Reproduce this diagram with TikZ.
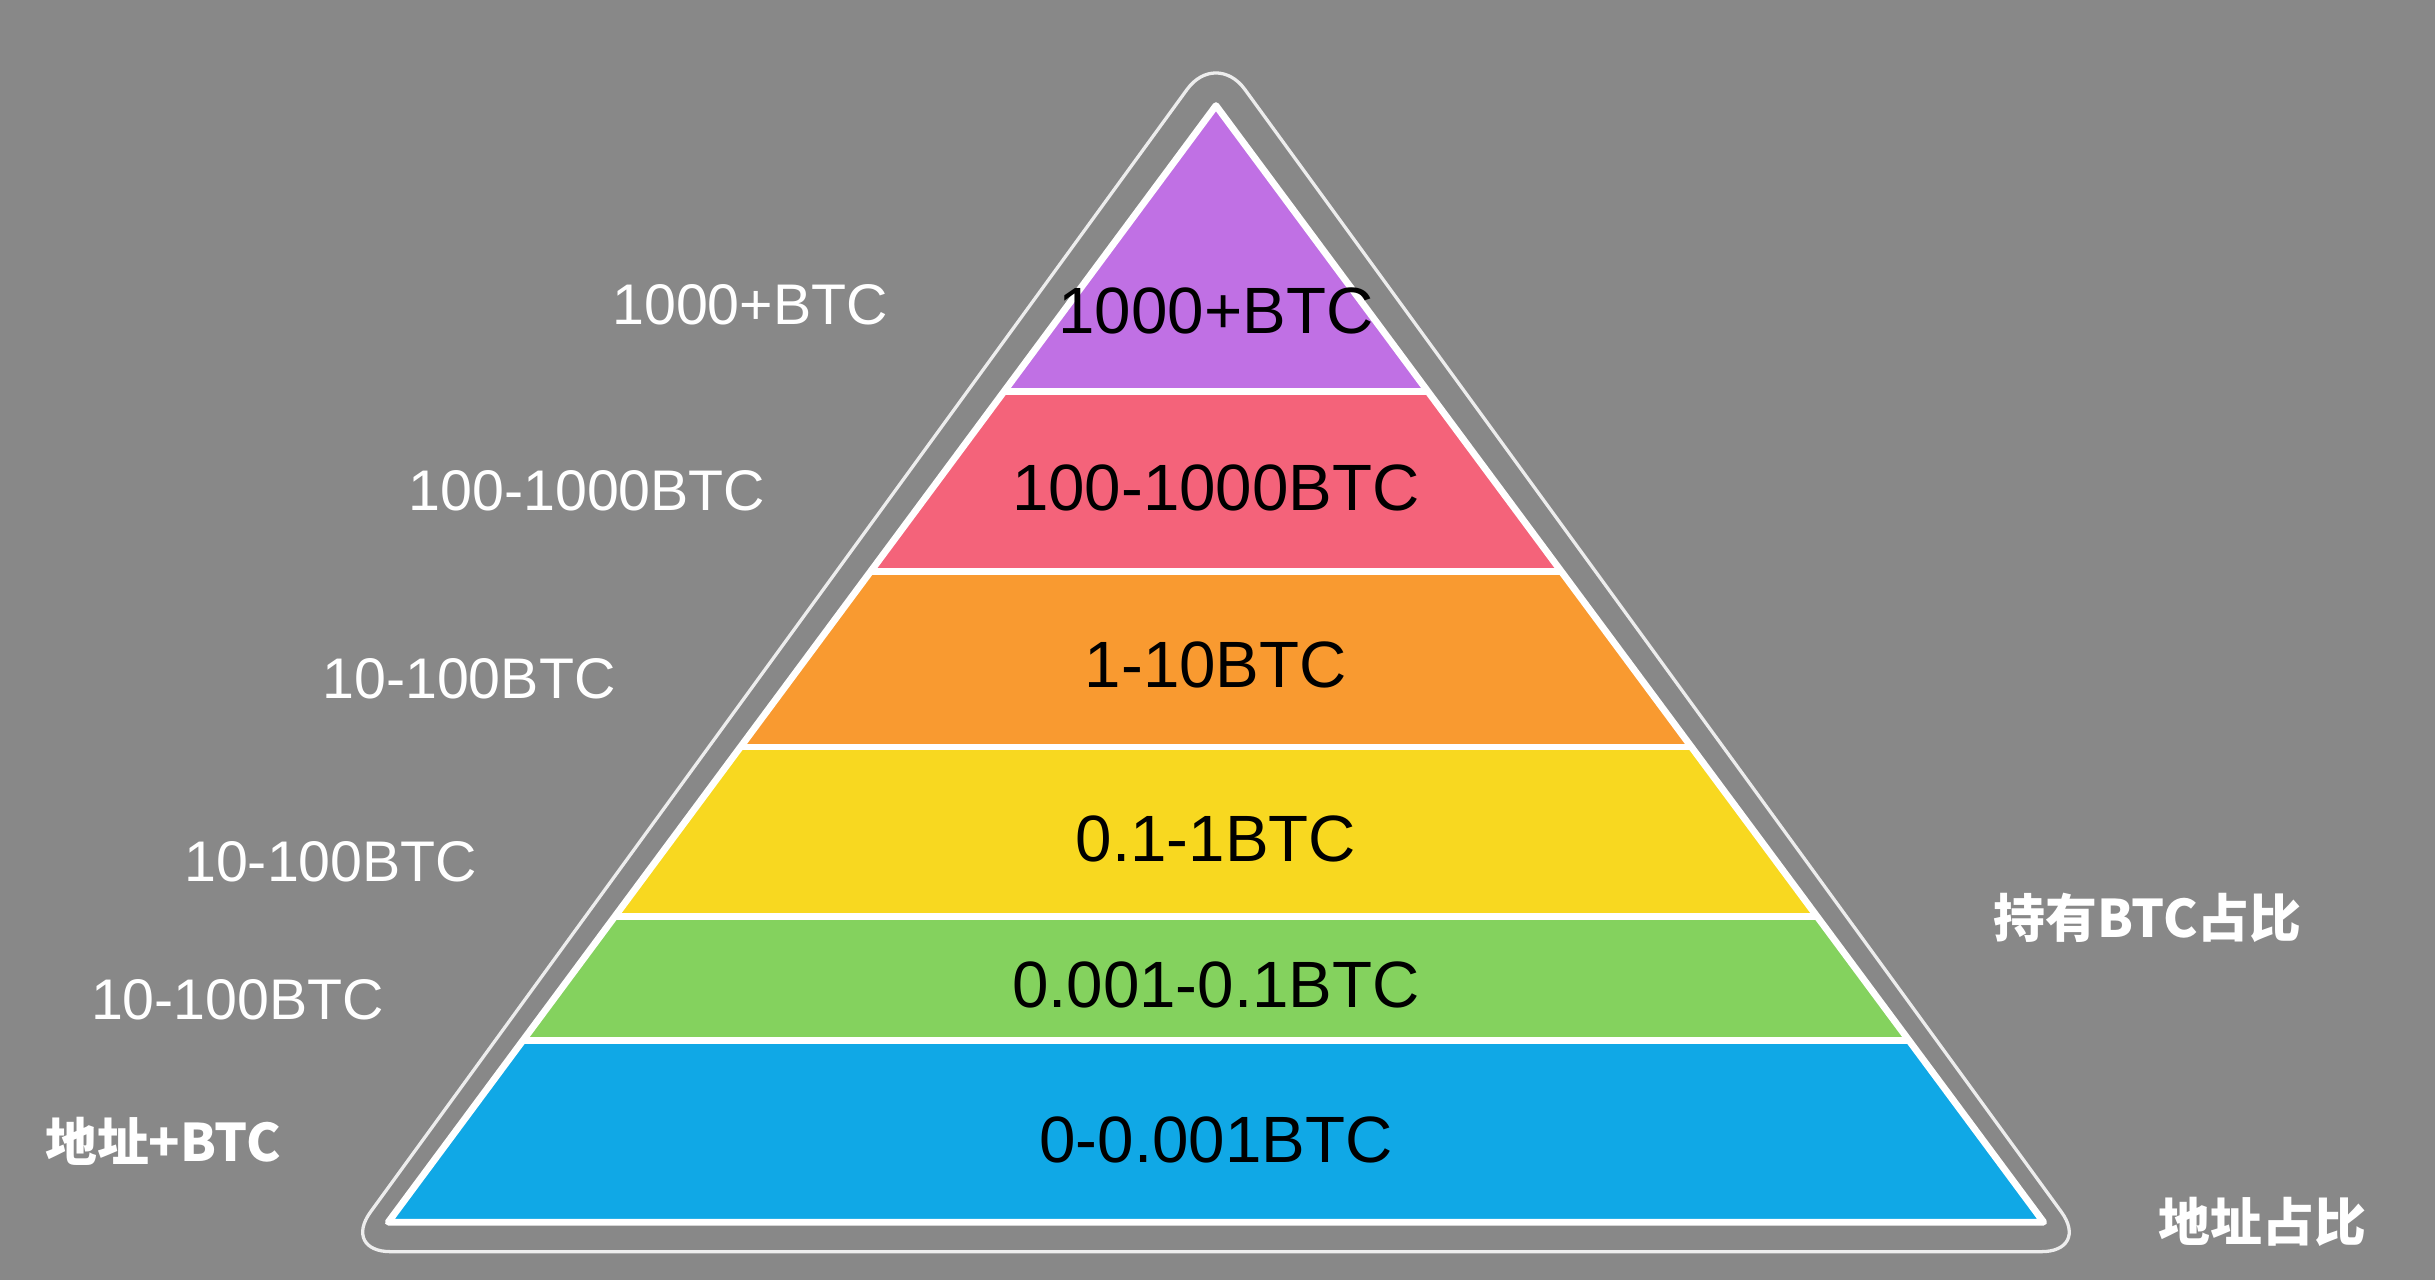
\documentclass[tikz,border=0pt]{standalone}
\usepackage{fontspec}
\setmainfont{Liberation Sans}
\newfontfamily\cjk{Noto Sans CJK SC}
\definecolor{bg}{HTML}{888888}
\definecolor{cpur}{HTML}{C070E4}
\definecolor{cred}{HTML}{F4637A}
\definecolor{cora}{HTML}{F99A30}
\definecolor{cyel}{HTML}{F8D820}
\definecolor{cgre}{HTML}{84D25E}
\definecolor{cblu}{HTML}{10A8E6}
\begin{document}
\begin{tikzpicture}[x=0.02cm,y=-0.02cm,
  band/.style={font=\fontsize{24}{28}\selectfont, text=black},
  side/.style={font=\fontsize{21}{24}\selectfont, text=white},
  sidecjk/.style={font=\cjk\bfseries\fontsize{19}{24}\selectfont, text=white}]
\fill[bg] (0,0) rectangle (1568,824);
\useasboundingbox (0,0) rectangle (1568,824);
\draw[white!85!bg, line width=1.2pt, rounded corners=18pt] (783,32) -- (1346,806) -- (220,806) -- cycle;
\begin{scope}
\clip (783,68) -- (1316,787) -- (250,787) -- cycle;
\fill[cpur] (0,0) rectangle (1568,252);
\fill[cred] (0,252) rectangle (1568,368);
\fill[cora] (0,368) rectangle (1568,481);
\fill[cyel] (0,481) rectangle (1568,590);
\fill[cgre] (0,590) rectangle (1568,670);
\fill[cblu] (0,670) rectangle (1568,800);
\foreach \y in {252,368,481,590,670}
  \draw[white, line width=2.5pt] (0,\y) -- (1568,\y);
\end{scope}
\draw[white, line width=2.5pt, line join=round] (783,68) -- (1316,787) -- (250,787) -- cycle;
\node[band] (b1) at (783,200) {1000+BTC};
\node[band] (b2) at (783,314) {100-1000BTC};
\node[band] (b3) at (783,428) {1-10BTC};
\node[band] (b4) at (783,540) {0.1-1BTC};
\node[band] (b5) at (783,634) {0.001-0.1BTC};
\node[band] (b6) at (783,734) {0-0.001BTC};
\node[side] (l1) at (483,196) {1000+BTC};
\node[side] (l2) at (378,316) {100-1000BTC};
\node[side] (l3) at (302,437) {10-100BTC};
\node[side] (l4) at (213,555) {10-100BTC};
\node[side] (l5) at (153,644) {10-100BTC};
\node[sidecjk] (l6) at (105,735) {地址+BTC};
\node[sidecjk] (r1) at (1383,591) {持有BTC占比};
\node[sidecjk] (r2) at (1457,787) {地址占比};
\end{tikzpicture}
\end{document}
